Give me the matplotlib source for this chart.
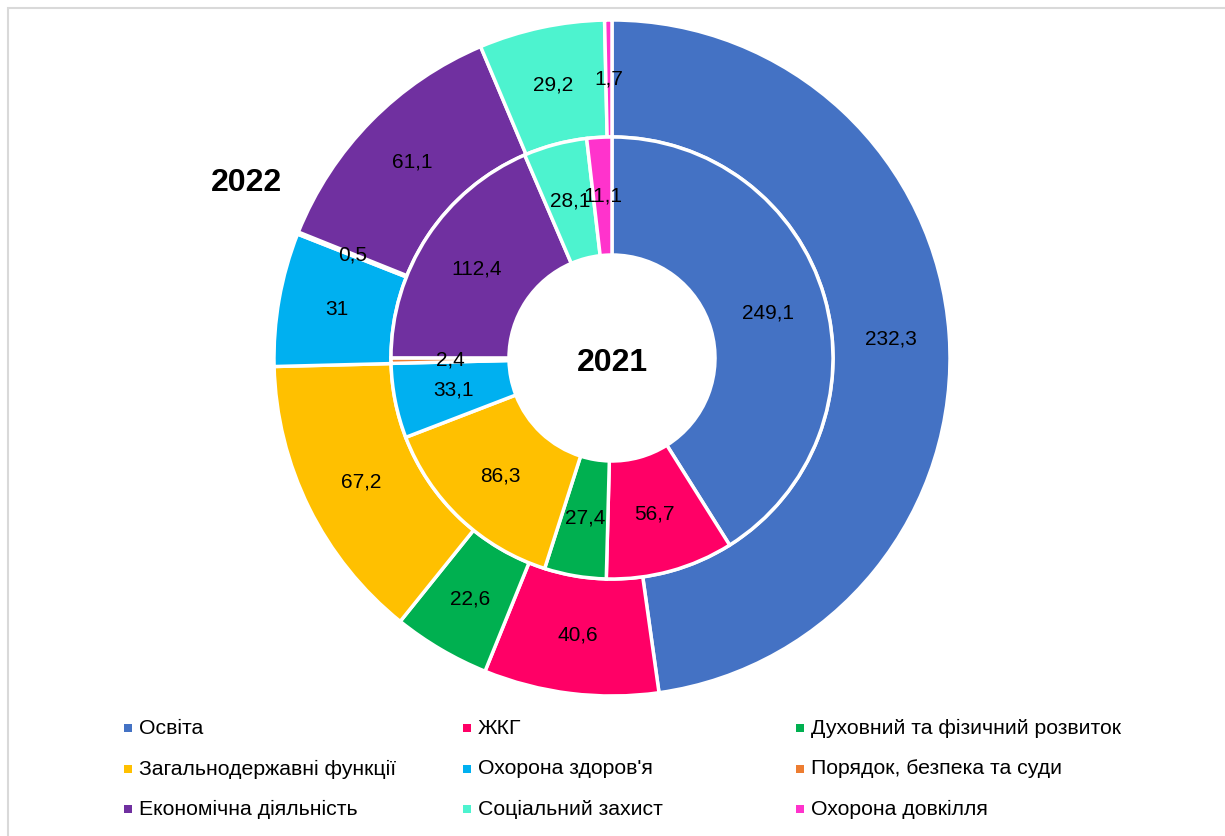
import matplotlib.pyplot as plt
from matplotlib.patches import Rectangle
import numpy as np

plt.rcParams['font.family'] = ['Liberation Sans', 'DejaVu Sans']

categories = ["Освіта", "ЖКГ", "Духовний та фізичний розвиток",
              "Загальнодержавні функції", "Охорона здоров'я", "Порядок, безпека та суди",
              "Економічна діяльність", "Соціальний захист", "Охорона довкілля"]
values_2021 = [249.1, 56.7, 27.4, 86.3, 33.1, 2.4, 112.4, 28.1, 11.1]
values_2022 = [232.3, 40.6, 22.6, 67.2, 31, 0.5, 61.1, 29.2, 1.7]
colors = ["#4472C4", "#FF0066", "#00B050", "#FFC000", "#00B0F0",
          "#ED7D31", "#7030A0", "#4DF3CF", "#FF33CC"]

W, H = 1225, 836
fig = plt.figure(figsize=(W / 100, H / 100), dpi=100)
ax = fig.add_axes([0, 0, 1, 1])

# ring geometry in pixels
cx, cy = 612, H - 358
r_out, r_mid, r_in = 338, 221, 103

wedge_style = dict(edgecolor="white", linewidth=2.5)

outer, _ = ax.pie(values_2022, radius=r_out, center=(cx, cy), colors=colors,
                  startangle=90, counterclock=False,
                  wedgeprops=dict(width=r_out - r_mid, **wedge_style))
inner, _ = ax.pie(values_2021, radius=r_mid, center=(cx, cy), colors=colors,
                  startangle=90, counterclock=False,
                  wedgeprops=dict(width=r_mid - r_in, **wedge_style))


def fmt(v):
    return f"{v:g}".replace(".", ",")


def add_labels(wedges, vals, r):
    for w, v in zip(wedges, vals):
        a = np.deg2rad((w.theta1 + w.theta2) / 2)
        ax.text(cx + r * np.cos(a), cy + r * np.sin(a), fmt(v),
                ha="center", va="center", fontsize=15, color="black", zorder=5)


add_labels(outer, values_2022, (r_out + r_mid) / 2)
add_labels(inner, values_2021, (r_mid + r_in) / 2)

ax.text(cx, H - 363, "2021", ha="center", va="center", fontsize=23, fontweight="bold")
ax.text(246, H - 183, "2022", ha="center", va="center", fontsize=23, fontweight="bold")

# legend, laid out like the original (3 columns, row-major)
col_x = [128, 467, 800]
row_y = [728, 769, 809]
for i, (name, c) in enumerate(zip(categories, colors)):
    x = col_x[i % 3]
    y = H - row_y[i // 3]
    ax.add_patch(Rectangle((x - 4, y - 4), 8, 8, facecolor=c, edgecolor="none"))
    ax.text(x + 11, y, name, ha="left", va="center", fontsize=15.3, color="black")

# chart area border
ax.add_patch(Rectangle((8, -20), W, H - 8 + 20, facecolor="none",
                       edgecolor="#D9D9D9", linewidth=1.5, zorder=0))

ax.set_xlim(0, W)
ax.set_ylim(0, H)
ax.set_aspect("auto")
ax.set_axis_off()

fig.savefig("out.png", dpi=100)
